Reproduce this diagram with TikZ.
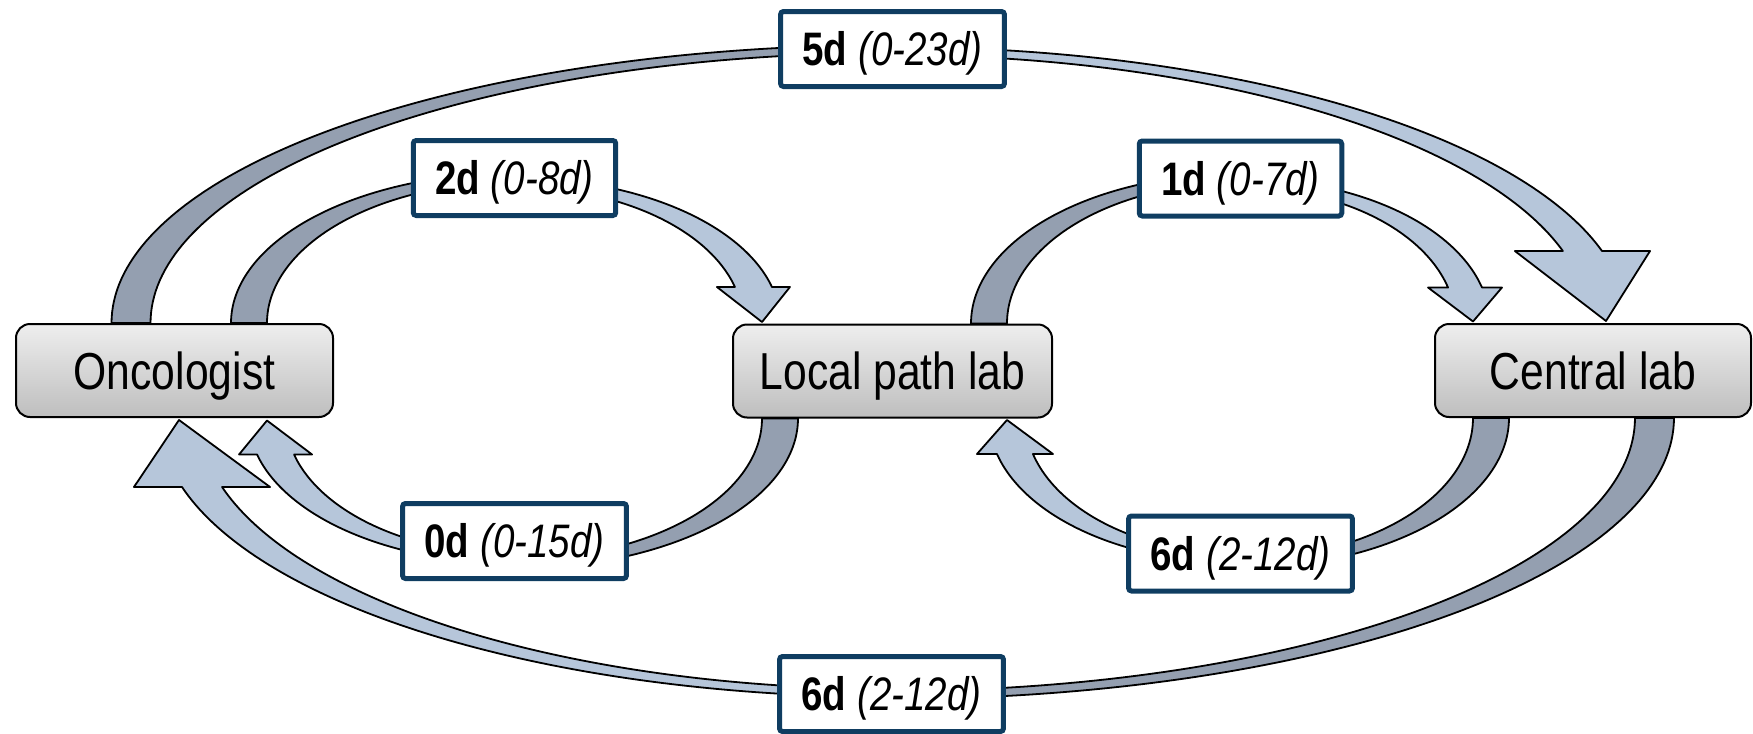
\documentclass[tikz,border=0pt]{standalone}
\usepackage{fontspec}
\setmainfont{Liberation Sans}[FakeStretch=0.82]
\usetikzlibrary{backgrounds}

\definecolor{backc}{RGB}{148,159,176}
\definecolor{frontc}{RGB}{182,198,218}
\definecolor{tagblue}{RGB}{15,61,97}
\definecolor{boxtop}{RGB}{238,238,238}
\definecolor{boxbot}{RGB}{190,190,190}

% Rear (darker) half of a curved block arrow: an elliptic band from the tail up to the crest.
% #1,#2 outer radii; #3,#4 inner radii (origin = foot of the arc on the box edge)
\newcommand{\arrowback}[4]{%
  \filldraw[backface] plot[domain=180:270] ({#1*cos(\x)},{#2*sin(\x)})
    -- plot[domain=270:180] ({#3*cos(\x)},{#4*sin(\x)}) -- cycle;}

% Front (lighter) half: band from the crest down to the head, plus the head.
% #1,#2 outer radii; #3,#4 inner radii; #5 head length; #6 barb overhang; #7 tip x; #8 tip gap
\newcommand{\arrowfront}[8]{%
  \pgfmathsetmacro\arwAo{360-asin(#5/#2)}%
  \pgfmathsetmacro\arwAi{360-asin(#5/#4)}%
  \pgfmathsetmacro\arwXo{#1*cos(\arwAo)}%
  \pgfmathsetmacro\arwXi{#3*cos(\arwAi)}%
  \filldraw[frontface] plot[domain=270:\arwAo] ({#1*cos(\x)},{#2*sin(\x)})
    -- ({\arwXo+#6},-#5) -- (#7,-#8) -- ({\arwXi-#6},-#5)
    -- plot[domain=\arwAi:270] ({#3*cos(\x)},{#4*sin(\x)}) -- cycle;}

\begin{document}
\begin{tikzpicture}[x=0.5pt,y=-0.5pt,
  box/.style={draw=black, line width=1pt, rounded corners=7pt,
    top color=boxtop, bottom color=boxbot, minimum height=46.5pt,
    font=\fontsize{26pt}{30pt}\selectfont, text height=18.6pt, text depth=0pt},
  tag/.style={draw=tagblue, line width=2.5pt, fill=white, rounded corners=1.5pt,
    minimum height=37.5pt, inner xsep=11pt,
    font=\fontsize{23.5pt}{28pt}\selectfont, text height=16.8pt, text depth=0pt},
  backface/.style={fill=backc, draw=black, line width=0.9pt, line join=round, samples=80},
  frontface/.style={fill=frontc, draw=black, line width=0.9pt, line join=round, samples=80}]
\useasboundingbox (0,0) rectangle (1753,734);

% stations
\node[box, minimum width=158.5pt] (onc) at (174.5,370.5) {Oncologist};
\node[box, minimum width=159.5pt] (loc) at (892.5,371) {Local path lab};
\node[box, minimum width=158pt]   (cen) at (1593,370.5) {Central lab};

% turnaround times
\node[tag] (lab5)  at (892.5,49)    {\textbf{5d} \textit{(0-23d)}};
\node[tag] (lab2)  at (514.5,178)   {\textbf{2d} \textit{(0-8d)}};
\node[tag] (lab1)  at (1240.5,178.5){\textbf{1d} \textit{(0-7d)}};
\node[tag] (lab0)  at (514.5,541)   {\textbf{0d} \textit{(0-15d)}};
\node[tag] (lab6a) at (1240.5,553.5){\textbf{6d} \textit{(2-12d)}};
\node[tag] (lab6b) at (891.5,694)   {\textbf{6d} \textit{(2-12d)}};

\begin{scope}[on background layer]
  % Oncologist -> Central lab (outer, top)
  \begin{scope}[shift={(lab5.center |- onc.north)}]
    \arrowback{781}{278}{742}{270}
    \arrowfront{735}{276}{696}{268}{72}{48}{713.5}{2}
  \end{scope}
  % Oncologist -> Local path lab
  \begin{scope}[shift={(lab2.center |- onc.north)}]
    \arrowback{283.5}{150}{247.5}{141}
    \arrowfront{265.8}{145}{228.6}{136}{36}{18}{247.5}{1}
  \end{scope}
  % Local path lab -> Central lab
  \begin{scope}[shift={(lab1.center |- loc.north)}]
    \arrowback{269.5}{150}{233.5}{141}
    \arrowfront{249.3}{145}{215.2}{136}{36}{20}{232.5}{2}
  \end{scope}
  % Local path lab -> Oncologist
  \begin{scope}[shift={(lab0.center |- loc.south)}, rotate=180]
    \arrowback{283.5}{150}{247.5}{141}
    \arrowfront{265.8}{145}{228.6}{136}{36}{18}{247.5}{2}
  \end{scope}
  % Central lab -> Local path lab
  \begin{scope}[shift={(lab6a.center |- cen.south)}, rotate=180]
    \arrowback{268.5}{150}{232.5}{141}
    \arrowfront{251.4}{145}{215.2}{136}{36}{20}{233.5}{2}
  \end{scope}
  % Central lab -> Oncologist (outer, bottom)
  \begin{scope}[shift={(lab6b.center |- cen.south)}, rotate=180]
    \arrowback{782.5}{281}{743.5}{273}
    \arrowfront{732.3}{279}{692.3}{271}{69}{48}{712.5}{2}
  \end{scope}
\end{scope}
\end{tikzpicture}
\end{document}
